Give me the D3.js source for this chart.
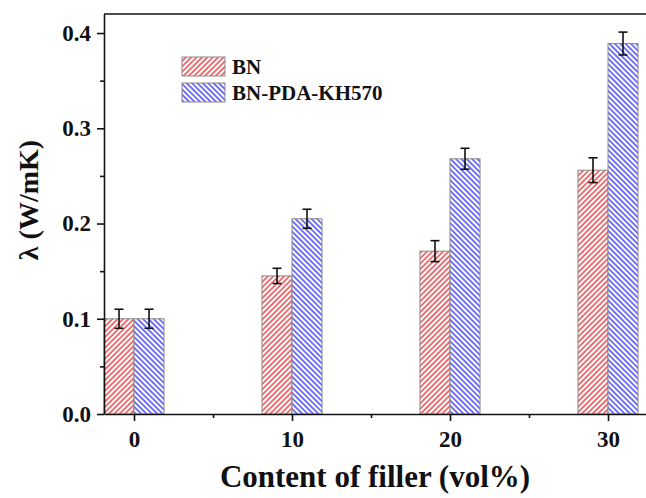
<!doctype html>
<html lang="en">

<head>
	<meta charset="utf-8">
	<title>Thermal conductivity vs filler content</title>
	<style>
		body { margin: 0; background: #fff; }
		svg text { font-family: "Liberation Serif", "Times New Roman", serif; font-weight: bold; fill: #111; }
	</style>
</head>

<body>
	<svg id="ChartArea" width="646" height="498"></svg>

	<script src="https://cdn.jsdelivr.net/npm/d3@7/dist/d3.min.js"></script>
	<script>
		// values
		var fillers = [0, 10, 20, 30];
		var bnValues = [0.100, 0.145, 0.171, 0.256];
		var bnErrors = [0.010, 0.008, 0.011, 0.013];
		var pdaValues = [0.100, 0.205, 0.268, 0.389];
		var pdaErrors = [0.010, 0.010, 0.011, 0.012];
		var yTicks = [0, 0.1, 0.2, 0.3, 0.4];
		var yMinor = [0.05, 0.15, 0.25, 0.35];
		var xMinor = [5, 15, 25];
		var seriesNames = ["BN", "BN-PDA-KH570"];

		(function () {
			"use strict"

			var svg = d3.select("#ChartArea");

			var x = d3.scaleLinear([-1.9, 33], [104, 655.4]),
				y = d3.scaleLinear([0, 0.42], [414, 14]),
				barW = 1.9;

			// hatch fills: red "/" and blue "\"
			var defs = svg.append("defs");
			[["hatchRed", "#e23a3d", 45], ["hatchBlue", "#3b3bef", -45]].forEach(function (p) {
				var pat = defs.append("pattern")
					.attr("id", p[0])
					.attr("patternUnits", "userSpaceOnUse")
					.attr("width", 3.8).attr("height", 3.8)
					.attr("patternTransform", "rotate(" + p[2] + ")");
				pat.append("rect").attr("width", 3.8).attr("height", 3.8).attr("fill", "#fff");
				pat.append("line")
					.attr("x1", 1).attr("y1", 0).attr("x2", 1).attr("y2", 3.8)
					.attr("stroke", p[1]).attr("stroke-width", 1.4);
			});

			var series = [
				{ name: seriesNames[0], values: bnValues, errors: bnErrors, fill: "url(#hatchRed)", offset: -barW },
				{ name: seriesNames[1], values: pdaValues, errors: pdaErrors, fill: "url(#hatchBlue)", offset: 0 }
			];

			// bars
			series.forEach(function (s) {
				var g = svg.append("g");
				fillers.forEach(function (f, i) {
					g.append("rect")
						.attr("x", x(f + s.offset))
						.attr("y", y(s.values[i]))
						.attr("width", x(f + s.offset + barW) - x(f + s.offset))
						.attr("height", y(0) - y(s.values[i]))
						.attr("fill", s.fill)
						.attr("stroke", "#8a8a8a")
						.attr("stroke-width", 1);
				});
			});

			// error bars
			series.forEach(function (s) {
				var g = svg.append("g").attr("stroke", "#111").attr("stroke-width", 1.6);
				fillers.forEach(function (f, i) {
					var cx = x(f + s.offset + barW / 2),
						lo = y(s.values[i] - s.errors[i]),
						hi = y(s.values[i] + s.errors[i]);
					g.append("line").attr("x1", cx).attr("x2", cx).attr("y1", lo).attr("y2", hi);
					g.append("line").attr("x1", cx - 4.5).attr("x2", cx + 4.5).attr("y1", lo).attr("y2", lo);
					g.append("line").attr("x1", cx - 4.5).attr("x2", cx + 4.5).attr("y1", hi).attr("y2", hi);
				});
			});

			// axes
			svg.append("g").attr("transform", "translate(104,0)")
				.call(d3.axisLeft(y).tickValues(yTicks).tickFormat(d3.format(".1f")).tickSize(7).tickSizeOuter(0).tickPadding(6));
			svg.append("g").attr("transform", "translate(104,0)")
				.call(d3.axisLeft(y).tickValues(yMinor).tickFormat("").tickSize(4).tickSizeOuter(0))
				.select(".domain").remove();

			svg.append("g").attr("transform", "translate(0,414)")
				.call(d3.axisBottom(x).tickValues(fillers).tickFormat(d3.format("d")).tickSize(7).tickSizeOuter(0).tickPadding(10));
			svg.append("g").attr("transform", "translate(0,414)")
				.call(d3.axisBottom(x).tickValues(xMinor).tickFormat("").tickSize(4).tickSizeOuter(0))
				.select(".domain").remove();

			svg.selectAll(".domain, .tick line").attr("stroke", "#111").attr("stroke-width", 1.6);
			svg.selectAll(".tick text").style("font-size", "23px").attr("fill", "#111");

			// top frame line
			svg.append("line")
				.attr("x1", 104).attr("x2", 655).attr("y1", y(0.42)).attr("y2", y(0.42))
				.attr("stroke", "#111").attr("stroke-width", 1.6);

			// axis titles
			svg.append("text")
				.attr("transform", "translate(38,200) rotate(-90)")
				.attr("text-anchor", "middle")
				.style("font-size", "28px")
				.text("λ (W/mK)");

			svg.append("text")
				.attr("x", 375).attr("y", 487)
				.attr("text-anchor", "middle")
				.style("font-size", "31px")
				.text("Content of filler (vol%)");

			// legend
			var legend = svg.append("g");
			series.forEach(function (s, i) {
				legend.append("rect")
					.attr("x", 182).attr("y", 57 + i * 26)
					.attr("width", 43).attr("height", 19)
					.attr("fill", s.fill)
					.attr("stroke", "#8a8a8a");
				legend.append("text")
					.attr("x", 232).attr("y", 74 + i * 26)
					.style("font-size", "21px")
					.text(s.name);
			});
		})();
	</script>
</body>

</html>
